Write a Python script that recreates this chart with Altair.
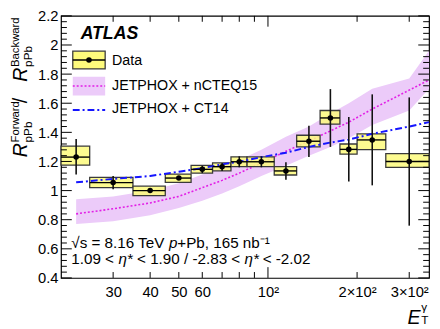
import altair as alt
import pandas as pd

# ---------------- data ----------------
bin_lo = [20, 25, 35, 45, 55, 65, 75, 85, 105, 125, 150, 175, 200, 250]
bin_hi = [25, 35, 45, 55, 65, 75, 85, 105, 125, 150, 175, 200, 250, 350]
et_center = [22.5, 30, 40, 50, 60, 70, 80, 95, 115, 137.5, 162.5, 187.5, 225, 300]
ratio = [1.23, 1.055, 1.0, 1.086, 1.146, 1.164, 1.198, 1.198, 1.135, 1.339, 1.499, 1.283, 1.348, 1.20]
syst_lo = [1.175, 1.02, 0.966, 1.056, 1.12, 1.135, 1.165, 1.165, 1.107, 1.30, 1.457, 1.25, 1.281, 1.16]
syst_hi = [1.305, 1.09, 1.03, 1.113, 1.173, 1.19, 1.232, 1.232, 1.164, 1.38, 1.55, 1.32, 1.39, 1.254]
stat_lo = [1.11, 1.01, 0.99, 1.075, 1.12, 1.135, 1.16, 1.16, 1.074, 1.231, 1.30, 1.063, 1.036, 0.759]
stat_hi = [1.355, 1.10, 1.01, 1.097, 1.17, 1.19, 1.235, 1.235, 1.194, 1.445, 1.697, 1.506, 1.661, 1.64]

th_et = [22.5, 30, 40, 50, 60, 70, 80, 95, 115, 137.5, 162.5, 187.5, 225, 300, 350]
ncteq_c = [0.84, 0.875, 0.915, 0.96, 1.02, 1.07, 1.12, 1.19, 1.27, 1.34, 1.41, 1.47, 1.56, 1.69, 1.76]
ncteq_lo = [0.77, 0.79, 0.83, 0.88, 0.93, 0.98, 1.03, 1.10, 1.17, 1.24, 1.30, 1.36, 1.45, 1.55, 1.70]
ncteq_hi = [0.94, 0.96, 1.00, 1.05, 1.11, 1.16, 1.21, 1.28, 1.37, 1.44, 1.53, 1.60, 1.70, 1.77, 1.96]
ct14 = [1.057, 1.08, 1.10, 1.13, 1.154, 1.18, 1.198, 1.23, 1.26, 1.30, 1.33, 1.35, 1.39, 1.44, 1.47]

xtick_values = [30, 40, 50, 60, 100, 200, 300]
xtick_labels = ["30", "40", "50", "60", "10²", "2×10²", "3×10²"]
ytick_values = [0.4, 0.6, 0.8, 1.0, 1.2, 1.4, 1.6, 1.8, 2.0, 2.2]
ytick_labels = ["0.4", "0.6", "0.8", "1", "1.2", "1.4", "1.6", "1.8", "2", "2.2"]
x_minor = [30, 40, 50, 60, 70, 80, 90, 200, 300]
x_major = [100]
y_minor = [round(0.4 + 0.04 * i, 2) for i in range(46)]
y_minor = [v for v in y_minor if round(v * 5, 6) != round(v * 5)]

legend_labels = ["Data", "JETPHOX + nCTEQ15", "JETPHOX + CT14"]

# ---------------- layout ----------------
W, H = 375, 267
FONT = "Liberation Sans"
NB = "\u00a0"

data_df = pd.DataFrame(dict(lo=bin_lo, hi=bin_hi, et=et_center, r=ratio,
                            slo=syst_lo, shi=syst_hi, tlo=stat_lo, thi=stat_hi))
th_df = pd.DataFrame(dict(et=th_et, c=ncteq_c, lo=ncteq_lo, hi=ncteq_hi, ct=ct14))

def lab_expr(vals, labs):
    s = ""
    for v, l in zip(vals, labs):
        s += f"abs(datum.value - {v}) < 1e-6 ? '{l}' : "
    return s + "''"

xscale = alt.Scale(type="log", domain=[20, 350], nice=False)
yscale = alt.Scale(domain=[0.4, 2.2], nice=False, zero=False)
xaxis = alt.Axis(values=xtick_values, labelExpr=lab_expr(xtick_values, xtick_labels),
                 ticks=False, tickSize=0, domain=False, grid=False, title=None,
                 labelFont=FONT, labelFontSize=15, labelColor="black", labelPadding=7,
                 labelFlush=False, labelOverlap=False)
yaxis = alt.Axis(values=ytick_values, labelExpr=lab_expr(ytick_values, ytick_labels),
                 ticks=False, tickSize=0, domain=False, grid=False, title=None,
                 labelFont=FONT, labelFontSize=15, labelColor="black", labelPadding=3,
                 labelOverlap=False)

def X(f):
    return alt.X(f, type="quantitative", scale=xscale, axis=xaxis)

def Y(f):
    return alt.Y(f, type="quantitative", scale=yscale, axis=yaxis)

base_d = alt.Chart(data_df)
base_t = alt.Chart(th_df)

band = base_t.mark_area(color="#eccbf9", opacity=1).encode(x=X("et"), y=Y("lo"), y2="hi")
nline = base_t.mark_line(color="#e21ee6", strokeDash=[2, 2], strokeWidth=1.6).encode(x=X("et"), y=Y("c"))
boxes = base_d.mark_rect(fill="#fdfa7c", fillOpacity=0.85, stroke="#3a3a3a", strokeWidth=1.3).encode(
    x=X("lo"), x2="hi", y=Y("slo"), y2="shi")
cline = base_t.mark_line(color="#1515ff", strokeDash=[7, 3, 2, 3], strokeWidth=2).encode(x=X("et"), y=Y("ct"))
xerr = base_d.mark_rule(color="black", strokeWidth=1.4).encode(x=X("lo"), x2="hi", y=Y("r"))
yerr = base_d.mark_rule(color="#111", strokeWidth=1.6).encode(x=X("et"), y=Y("tlo"), y2="thi")
pts = base_d.mark_circle(size=32, color="black", opacity=1).encode(x=X("et"), y=Y("r"))

def tick_layers():
    out = []
    for vals, ln in ((x_minor, 6), (x_major, 11)):
        df = pd.DataFrame(dict(v=vals))
        out.append(alt.Chart(df).mark_rule(color="black", strokeWidth=1).encode(
            x=X("v"), y=alt.value(H), y2=alt.value(H - ln)))
        out.append(alt.Chart(df).mark_rule(color="black", strokeWidth=1).encode(
            x=X("v"), y=alt.value(0), y2=alt.value(ln)))
    for vals, ln in ((y_minor, 6), (ytick_values, 11)):
        df = pd.DataFrame(dict(v=vals))
        out.append(alt.Chart(df).mark_rule(color="black", strokeWidth=1).encode(
            y=Y("v"), x=alt.value(0), x2=alt.value(ln)))
        out.append(alt.Chart(df).mark_rule(color="black", strokeWidth=1).encode(
            y=Y("v"), x=alt.value(W - ln), x2=alt.value(W)))
    return out

one = pd.DataFrame({"a": [0]})

def txt(s, x, y, size=14, style="normal", weight="normal", align="left", baseline="alphabetic", angle=0):
    kw = dict(font=FONT, fontSize=size, fontStyle=style, fontWeight=weight, align=align,
              baseline=baseline, color="black")
    if angle:
        kw["angle"] = angle
    return alt.Chart(one).mark_text(**kw).encode(x=alt.value(x), y=alt.value(y), text=alt.value(s))

# legend swatches (pixel positions inside the plot area)
leg = [
    alt.Chart(one).mark_rect(fill="#fdfa7c", stroke="#3a3a3a", strokeWidth=1.3).encode(
        x=alt.value(12), x2=alt.value(45), y=alt.value(36), y2=alt.value(54)),
    alt.Chart(one).mark_rule(color="black", strokeWidth=1.4).encode(
        x=alt.value(12), x2=alt.value(45), y=alt.value(45)),
    alt.Chart(one).mark_circle(size=32, color="black", opacity=1).encode(
        x=alt.value(28.5), y=alt.value(45)),
    alt.Chart(one).mark_rect(fill="#eccbf9").encode(
        x=alt.value(12), x2=alt.value(45), y=alt.value(62), y2=alt.value(81)),
    alt.Chart(one).mark_rule(color="#e21ee6", strokeDash=[2, 2], strokeWidth=1.6).encode(
        x=alt.value(12), x2=alt.value(45), y=alt.value(71.5)),
    alt.Chart(one).mark_rule(color="#1515ff", strokeDash=[7, 3, 2, 3], strokeWidth=2).encode(
        x=alt.value(12), x2=alt.value(45), y=alt.value(96)),
    txt("ATLAS", 20, 24, size=18, style="italic", weight="bold"),
    txt(legend_labels[0], 52, 46, size=14.5, baseline="middle"),
    txt(legend_labels[1], 52, 72, size=14.5, baseline="middle"),
    txt(legend_labels[2], 52, 95, size=14.5, baseline="middle"),
]

# annotation lines at bottom-left
FS = 15.5
ann = [
    txt("√s = 8.16 TeV", 10.5, 236, size=FS),
    txt("p", 110, 236, size=FS, style="italic"),
    txt("+Pb, 165 nb⁻¹", 118.5, 236, size=FS),
    txt("1.09 <", 10.5, 253, size=FS),
    txt("η*", 58.5, 253, size=FS, style="italic"),
    txt("<" + NB + "1.90" + NB + "/" + NB + "-2.83" + NB + "<", 77.5, 253, size=FS),
    txt("η*", 187, 253, size=FS, style="italic"),
    txt("<" + NB + "-2.02", 205.5, 253, size=FS),
]

# axis titles (composed with sub/superscripts)
ytitle = [
    txt("R", -35, 144, size=20, style="italic", angle=270),
    txt("pPb", -30, 129, size=12, angle=270),
    txt("Forward", -43, 129, size=11.5, angle=270),
    txt("/", -35, 89, size=20, angle=270),
    txt("R", -35, 67, size=20, style="italic", angle=270),
    txt("pPb", -30, 52, size=12, angle=270),
    txt("Backward", -43, 52, size=11.5, angle=270),
]
xtitle = [
    txt("E", 353, 314, size=20, style="italic"),
    txt("γ", 367, 301, size=12),
    txt("T", 367, 314, size=12),
]

layers = [band, nline, boxes, cline, xerr, yerr, pts] + tick_layers() + leg + ann + ytitle + xtitle

chart = alt.layer(*layers).properties(
    width=W, height=H,
    autosize=alt.AutoSizeParams(type="none"),
    padding={"left": 54, "top": 5, "right": 3, "bottom": 49},
).configure_view(stroke="black", strokeWidth=1.2)

chart.save("out.html", embed_options={"renderer": "svg", "actions": False})
